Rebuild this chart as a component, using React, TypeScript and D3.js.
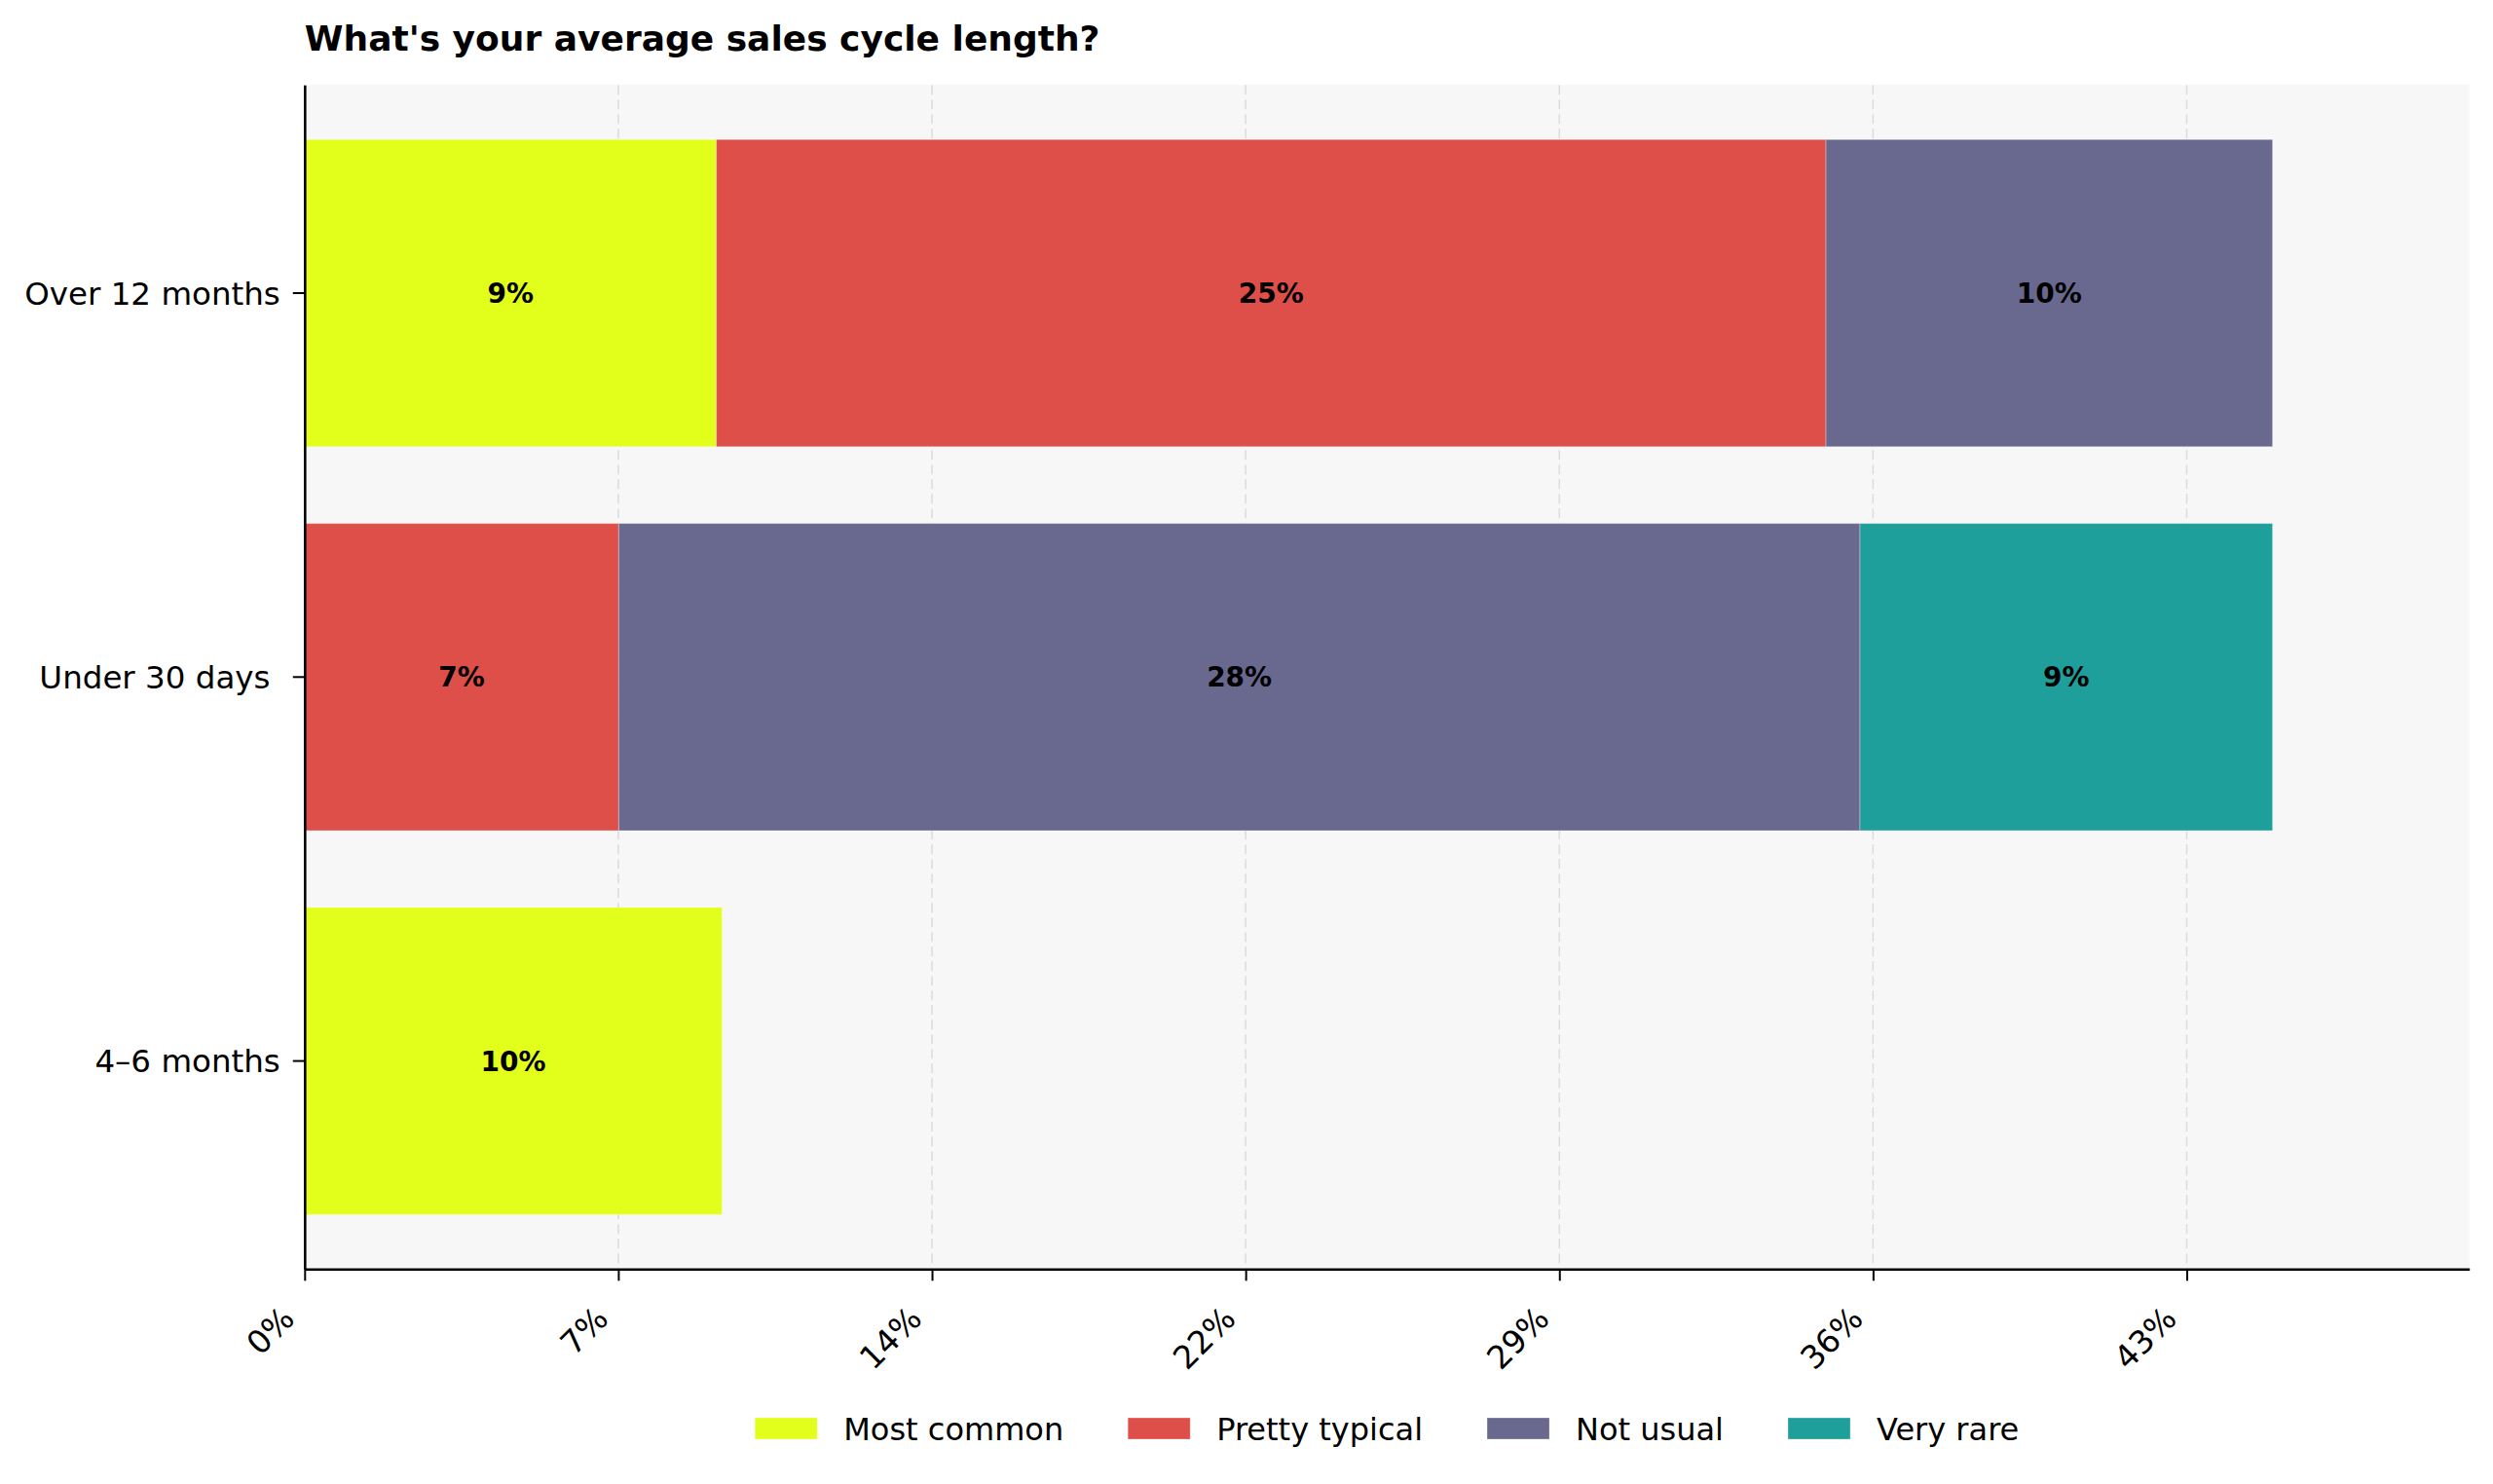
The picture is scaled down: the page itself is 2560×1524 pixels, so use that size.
import React, { useEffect, useRef } from "react";
import * as d3 from "d3";

const WIDTH = 2560;
const HEIGHT = 1524;

const title = "What's your average sales cycle length?";

// Rows listed bottom-to-top, as stacked
const categories = ["4–6 months", "Under 30 days ", "Over 12 months"];
const seriesNames = ["Most common", "Pretty typical", "Not usual", "Very rare"];
const seriesColors = ["#e2ff1b", "#de4f4a", "#69698f", "#1f9f9c"];

// Share of respondents (%) per category
const mostCommon = [9.58, 0, 9.45];
const prettyTypical = [0, 7.21, 25.47];
const notUsual = [0, 28.49, 10.25];
const veryRare = [0, 9.47, 0];

const xTickValues = [0, 7.2, 14.4, 21.6, 28.8, 36, 43.2];

const FONT = "'DejaVu Sans', 'Liberation Sans', sans-serif";

export default function App() {
  const ref = useRef<SVGSVGElement | null>(null);

  useEffect(() => {
    const svg = d3.select(ref.current);
    svg.selectAll("*").remove();

    const left = 312.8;
    const right = 2535.7;
    const top = 87.3;
    const bottom = 1303.3;

    const series = [mostCommon, prettyTypical, notUsual, veryRare];
    const rows = categories.map((c, i) => {
      const r: any = { category: c };
      seriesNames.forEach((s, k) => (r[s] = series[k][i]));
      return r;
    });
    const stacked = d3.stack<any>().keys(seriesNames)(rows);
    const maxTotal = d3.max(rows, (r: any) => d3.sum(seriesNames, (s) => r[s])) as number;

    const x = d3.scaleLinear().domain([0, maxTotal * 1.1]).range([left, right]);
    const y = d3
      .scaleBand<string>()
      .domain([...categories].reverse())
      .range([top, bottom])
      .paddingInner(0.2)
      .paddingOuter(0.142);

    // plot background
    svg
      .append("rect")
      .attr("x", left)
      .attr("y", top)
      .attr("width", right - left)
      .attr("height", bottom - top)
      .attr("fill", "#f7f7f7");

    // vertical grid
    svg
      .append("g")
      .selectAll("line")
      .data(xTickValues)
      .join("line")
      .attr("x1", (d) => x(d))
      .attr("x2", (d) => x(d))
      .attr("y1", top)
      .attr("y2", bottom)
      .attr("stroke", "#dcdcdc")
      .attr("stroke-width", 1.5)
      .attr("stroke-dasharray", "10,5");

    // stacked bars
    const layers = svg
      .append("g")
      .selectAll("g")
      .data(stacked)
      .join("g")
      .attr("fill", (_d, i) => seriesColors[i]);

    layers
      .selectAll("rect")
      .data((d) => d.filter((p) => p[1] - p[0] > 0))
      .join("rect")
      .attr("x", (p) => x(p[0]))
      .attr("width", (p) => x(p[1]) - x(p[0]))
      .attr("y", (p) => y(p.data.category) as number)
      .attr("height", y.bandwidth())
      .attr("stroke", "#ffffff")
      .attr("stroke-opacity", 0.3)
      .attr("stroke-width", 1);

    // value labels
    layers
      .selectAll("text")
      .data((d) => d.filter((p) => p[1] - p[0] > 0))
      .join("text")
      .attr("x", (p) => (x(p[0]) + x(p[1])) / 2)
      .attr("y", (p) => (y(p.data.category) as number) + y.bandwidth() / 2)
      .attr("dy", "0.36em")
      .attr("text-anchor", "middle")
      .attr("fill", "#000")
      .attr("font-family", FONT)
      .attr("font-weight", "bold")
      .attr("font-size", 28)
      .text((p) => `${Math.round(p[1] - p[0])}%`);

    // y axis
    const yAxis = svg
      .append("g")
      .attr("transform", `translate(${left},0)`)
      .call(d3.axisLeft(y).tickSize(12).tickSizeOuter(0).tickPadding(13));
    yAxis.select(".domain").attr("stroke", "#000").attr("stroke-width", 2.6);
    yAxis.selectAll(".tick line").attr("stroke", "#000").attr("stroke-width", 2);
    yAxis
      .selectAll(".tick text")
      .attr("font-family", FONT)
      .attr("font-size", 32.5)
      .attr("fill", "#000")
      .attr("dy", "0.36em")
      .style("white-space", "pre");

    // x axis
    const xAxis = svg
      .append("g")
      .attr("transform", `translate(0,${bottom})`)
      .call(
        d3
          .axisBottom(x)
          .tickValues(xTickValues)
          .tickFormat((d) => `${Math.round(d as number)}%`)
          .tickSize(12)
          .tickSizeOuter(0)
      );
    xAxis.select(".domain").attr("stroke", "#000").attr("stroke-width", 2.6);
    xAxis.selectAll(".tick line").attr("stroke", "#000").attr("stroke-width", 2);
    xAxis
      .selectAll(".tick text")
      .attr("font-family", FONT)
      .attr("font-size", 33)
      .attr("fill", "#000")
      .attr("text-anchor", "end")
      .attr("x", null)
      .attr("y", null)
      .attr("dy", null)
      .attr("transform", "translate(-9,53) rotate(-45)");

    // title
    svg
      .append("text")
      .attr("x", left)
      .attr("y", 52)
      .attr("font-family", FONT)
      .attr("font-weight", "bold")
      .attr("font-size", 36)
      .attr("fill", "#000")
      .text(title);

    // legend, centred under the plot
    const legend = svg.append("g");
    const patchW = 64;
    const patchH = 22;
    const textGap = 27;
    const itemGap = 66;
    const legendY = 1467;
    const items = seriesNames.map((name, i) => {
      const g = legend.append("g");
      g.append("rect")
        .attr("width", patchW)
        .attr("height", patchH)
        .attr("y", legendY - patchH / 2)
        .attr("fill", seriesColors[i])
        .attr("stroke", "#ffffff")
        .attr("stroke-opacity", 0.3);
      const t = g
        .append("text")
        .attr("x", patchW + textGap)
        .attr("y", legendY)
        .attr("dy", "0.36em")
        .attr("font-family", FONT)
        .attr("font-size", 32)
        .attr("fill", "#000")
        .text(name);
      const w = (t.node() as SVGTextElement).getComputedTextLength();
      return { g, width: patchW + textGap + w };
    });
    const total = d3.sum(items, (d) => d.width) + itemGap * (items.length - 1);
    let cursor = (left + right) / 2 - total / 2;
    items.forEach((it) => {
      it.g.attr("transform", `translate(${cursor},0)`);
      cursor += it.width + itemGap;
    });
  }, []);

  return (
    <svg
      ref={ref}
      width={WIDTH}
      height={HEIGHT}
      style={{ position: "absolute", left: 0, top: 0, background: "#ffffff", display: "block" }}
    />
  );
}
